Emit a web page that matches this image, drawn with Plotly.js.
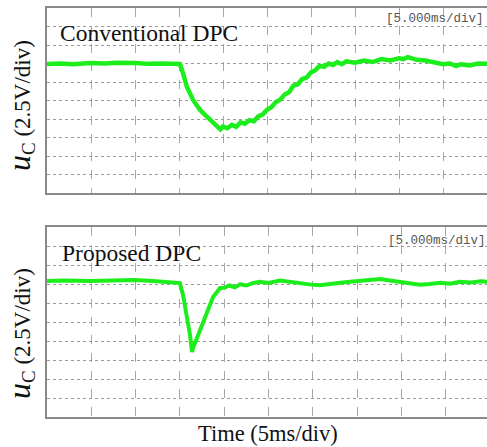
<!DOCTYPE html>
<html>
<head>
<meta charset="utf-8">
<script src="https://cdn.plot.ly/plotly-3.0.1.min.js"></script>
<style>
html,body{margin:0;padding:0;overflow:hidden;background:#fff;}
#chart{width:492px;height:447px;}
</style>
</head>
<body>
<div id="chart"></div>
<script>
// ---- data (time in ms, voltage in V measured from bottom grid line) ----
const panelTitles = ["Conventional DPC", "Proposed DPC"];
const scaleLabel = "[5.000ms/div]";
const xTitle = "Time (5ms/div)";
const yTitle = "<i><span style=\"font-size:32px\">u</span></i><sub><span style=\"font-size:19px\">C</span></sub> (2.5V/div)";

const convTime = [0, 1.5, 3, 4.9, 6.5, 8, 10.0, 11.5, 13, 14.0, 15.1, 15.45, 15.9, 16.6, 17.4, 18.2, 18.9, 19.3, 19.7, 20.0, 20.5, 21.0, 21.5, 22.0, 22.5, 23.0, 23.5, 24.0, 24.5, 25.0, 25.5, 26.0, 26.5, 27.0, 27.5, 28.0, 28.5, 29.0, 29.5, 30.0, 30.5, 31.0, 31.5, 32.0, 32.5, 33.0, 33.5, 34.0, 35.0, 36.0, 37.0, 38.0, 39.0, 40.0, 40.5, 41.0, 42.0, 43.0, 44.0, 44.5, 45.0, 45.8, 46.5, 47.0, 48.0, 49.0, 50];
const convVolt = [17.43, 17.5, 17.4, 17.57, 17.5, 17.6, 17.57, 17.45, 17.5, 17.43, 17.43, 16.22, 14.32, 12.57, 11.22, 10.27, 9.46, 9.0, 8.6, 9.0, 8.75, 9.2, 8.95, 9.55, 9.35, 9.85, 9.7, 10.35, 10.6, 11.25, 11.6, 12.3, 12.6, 13.3, 13.6, 14.5, 14.7, 15.4, 15.6, 16.3, 16.6, 17.2, 17.05, 17.5, 17.3, 17.7, 17.4, 17.8, 17.6, 17.9, 17.7, 18.1, 17.9, 18.2, 18.1, 18.35, 18.0, 17.9, 17.7, 17.65, 17.4, 17.5, 17.15, 17.4, 17.25, 17.5, 17.45, 17.75];

const propTime = [0, 2, 4.85, 7, 9.9, 12, 13.9, 15.0, 15.35, 15.8, 16.14, 16.37, 16.48, 16.93, 17.27, 17.61, 18.06, 18.4, 18.74, 19.19, 19.53, 20.0, 20.6, 21.2, 21.8, 22.5, 23.2, 24.0, 25.0, 26.3, 27.4, 28.55, 29.6, 30.8, 31.9, 33.1, 34.2, 35.3, 36.4, 37.6, 38.7, 39.8, 40.9, 42.1, 43.2, 44.4, 45.5, 46.6, 47.8, 49.0, 50];
const propVolt = [17.89, 17.95, 17.89, 17.95, 18.03, 17.9, 17.76, 17.63, 16.05, 13.42, 10.79, 8.55, 9.08, 10.39, 11.45, 12.5, 13.82, 15.0, 15.79, 16.45, 16.97, 17.0, 17.3, 17.05, 17.45, 17.3, 17.6, 17.8, 17.65, 17.95, 17.75, 17.6, 17.45, 17.35, 17.55, 17.65, 17.8, 17.9, 17.95, 18.16, 17.95, 17.8, 17.6, 17.4, 17.5, 17.65, 17.55, 17.8, 17.7, 17.85, 17.75];

// ---- layout helpers (pixel -> paper) ----
const W = 492, H = 447;
const px = v => v / W;
const py = v => 1 - v / H;

const green = "rgb(28,238,28)";
const serif = "Liberation Serif";

const traces = [
  {x: convTime, y: convVolt, xaxis: "x", yaxis: "y", mode: "lines",
   line: {color: green, width: 4.5}, hoverinfo: "skip"},
  {x: propTime, y: propVolt, xaxis: "x2", yaxis: "y2", mode: "lines",
   line: {color: green, width: 4}, hoverinfo: "skip"}
];

function xa(domain) {
  return {domain: domain, range: [0, 50], dtick: 5, tick0: 0,
    showgrid: true, gridcolor: "#a8a8a8", gridwidth: 1, griddash: "dash",
    zeroline: false, showticklabels: false, ticks: "",
    showline: true, mirror: true, linecolor: "#8a8a8a", linewidth: 2, fixedrange: true};
}
function ya(domain) {
  return {domain: domain, range: [0, 25], dtick: 2.5, tick0: 0,
    showgrid: true, gridcolor: "#9a9a9a", gridwidth: 1, griddash: "dot",
    zeroline: false, showticklabels: false, ticks: "",
    showline: true, mirror: true, linecolor: "#8a8a8a", linewidth: 2, fixedrange: true};
}

const layout = {
  width: W, height: H,
  margin: {l: 0, r: 0, t: 0, b: 0},
  paper_bgcolor: "#fff", plot_bgcolor: "#fff",
  showlegend: false,
  xaxis: xa([px(47), px(487)]),
  yaxis: Object.assign(ya([py(193), py(8)]), {anchor: "x"}),
  xaxis2: Object.assign(xa([px(47), px(490)]), {anchor: "y2"}),
  yaxis2: Object.assign(ya([py(417), py(227)]), {anchor: "x2"}),
  annotations: [
    {text: panelTitles[0], xref: "paper", yref: "paper", x: px(58), y: py(33),
     xanchor: "left", yanchor: "middle", showarrow: false,
     font: {family: serif, size: 23.5, color: "#111"}},
    {text: panelTitles[1], xref: "paper", yref: "paper", x: px(60), y: py(253),
     xanchor: "left", yanchor: "middle", showarrow: false,
     font: {family: serif, size: 23.5, color: "#111"}},
    {text: scaleLabel, xref: "paper", yref: "paper", x: px(384), y: py(19),
     xanchor: "left", yanchor: "middle", showarrow: false,
     font: {family: "Liberation Mono", size: 12.5, color: "#555"}},
    {text: scaleLabel, xref: "paper", yref: "paper", x: px(386), y: py(241),
     xanchor: "left", yanchor: "middle", showarrow: false,
     font: {family: "Liberation Mono", size: 12.5, color: "#555"}},
    {text: yTitle, xref: "paper", yref: "paper", x: px(20), y: py(106), textangle: -90,
     xanchor: "center", yanchor: "middle", showarrow: false,
     font: {family: serif, size: 23, color: "#111"}},
    {text: yTitle, xref: "paper", yref: "paper", x: px(20), y: py(334), textangle: -90,
     xanchor: "center", yanchor: "middle", showarrow: false,
     font: {family: serif, size: 23, color: "#111"}},
    {text: xTitle, xref: "paper", yref: "paper", x: px(268), y: py(433),
     xanchor: "center", yanchor: "middle", showarrow: false,
     font: {family: serif, size: 22.5, color: "#111"}}
  ]
};

Plotly.newPlot("chart", traces, layout, {displayModeBar: false, staticPlot: true});
</script>
</body>
</html>
